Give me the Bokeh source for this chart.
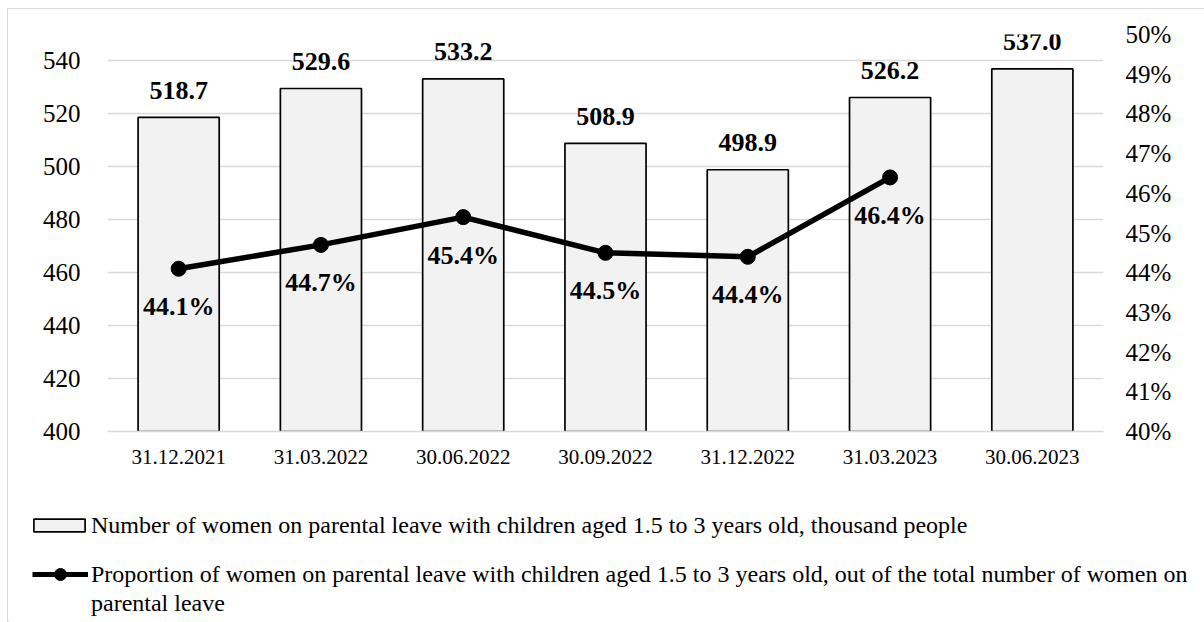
from bokeh.plotting import figure
from bokeh.layouts import column
from bokeh.models import (FactorRange, Range1d, LinearAxis, SingleIntervalTicker,
                          NumeralTickFormatter, Legend, LegendItem, ColumnDataSource)
from bokeh.core.properties import value
from bokeh.embed import file_html
from bokeh.resources import INLINE

# ---------------- data ----------------
dates = ["31.12.2021", "31.03.2022", "30.06.2022", "30.09.2022",
         "31.12.2022", "31.03.2023", "30.06.2023"]
women_thousand = [518.7, 529.6, 533.2, 508.9, 498.9, 526.2, 537.0]
share_dates = ["31.12.2021", "31.03.2022", "30.06.2022", "30.09.2022",
               "31.12.2022", "31.03.2023"]
share_pct = [0.441, 0.447, 0.454, 0.445, 0.444, 0.464]
bar_label = "Number of women on parental leave with children aged 1.5 to 3 years old, thousand people"
line_label_1 = "Proportion of women on parental leave with children aged 1.5 to 3 years old, out of the total number of women on"
line_label_2 = "parental leave"

FONT = "Liberation Serif"

bars = ColumnDataSource(dict(x=dates, top=women_thousand,
                             lbl=[f"{v:.1f}" for v in women_thousand]))
line = ColumnDataSource(dict(x=share_dates, y=share_pct,
                             lbl=[f"{v*100:.1f}%" for v in share_pct]))

p = figure(width=1196, height=471, x_range=FactorRange(factors=dates),
           y_range=Range1d(400, 550), output_backend="svg", toolbar_location=None,
           min_border_left=99, min_border_right=101, min_border_top=25,
           min_border_bottom=49)
p.frame_align = False
p.outline_line_color = None
p.background_fill_color = "white"
p.border_fill_color = "white"

p.extra_y_ranges = {"pct": Range1d(0.40, 0.50)}

# grid
p.xgrid.grid_line_color = None
p.ygrid.grid_line_color = "#d9d9d9"
p.ygrid.grid_line_width = 1.3

# left axis
yl = p.yaxis[0]
yl.ticker = SingleIntervalTicker(interval=20)
yl.axis_line_color = None
yl.major_tick_line_color = None
yl.minor_tick_line_color = None
yl.major_label_text_font = FONT
yl.major_label_text_font_size = "25px"
yl.major_label_text_color = "black"
yl.major_label_standoff = 21

# right axis
yr = LinearAxis(y_range_name="pct", ticker=SingleIntervalTicker(interval=0.01),
                formatter=NumeralTickFormatter(format="0%"))
yr.axis_line_color = None
yr.major_tick_line_color = None
yr.minor_tick_line_color = None
yr.major_label_text_font = FONT
yr.major_label_text_font_size = "25px"
yr.major_label_text_color = "black"
yr.major_label_standoff = 16
p.add_layout(yr, "right")

# x axis
xa = p.xaxis[0]
xa.axis_line_color = "#d9d9d9"
xa.axis_line_width = 1.3
xa.major_tick_line_color = None
xa.minor_tick_line_color = None
xa.major_label_text_font = FONT
xa.major_label_text_font_size = "21px"
xa.major_label_text_color = "black"
xa.major_label_standoff = 12

# bars
vb = p.vbar(x="x", top="top", bottom=400, width=0.57, source=bars,
            fill_color="#f2f2f2", line_color="black", line_width=1.7)
p.text(x="x", y="top", text="lbl", source=bars, text_font=value(FONT),
       text_font_style="bold", text_font_size="26px", text_align="center",
       text_baseline="alphabetic", y_offset=-27, text_color="black")

# line
ln = p.line(x="x", y="y", source=line, y_range_name="pct", line_color="black",
            line_width=5.5)
sc = p.scatter(x="x", y="y", source=line, y_range_name="pct", size=15,
               fill_color="black", line_color="black")
p.text(x="x", y="y", text="lbl", source=line, y_range_name="pct",
       text_font=value(FONT), text_font_style="bold", text_font_size="26px",
       text_align="center", text_baseline="alphabetic", y_offset=38,
       text_color="black")

# ---------------- legend panel ----------------
q = figure(width=1196, height=142, x_range=Range1d(0, 1), y_range=Range1d(0, 1),
           output_backend="svg", toolbar_location=None,
           x_axis_type=None, y_axis_type=None,
           min_border_left=0, min_border_top=0, min_border_right=0,
           min_border_bottom=0)
q.frame_align = False
q.outline_line_color = None
q.xgrid.grid_line_color = None
q.ygrid.grid_line_color = None
# legend proxies (kept outside the visible range)
proxy = ColumnDataSource(dict(x=[-10, -9], y=[-10, -10], top=[-10, -10]))
qb = q.vbar(x="x", top="top", bottom=-20, width=0.5, source=proxy,
            fill_color="#f2f2f2", line_color="black", line_width=1.7)
ql = q.line(x="x", y="y", source=proxy, line_color="black", line_width=5)
qs = q.scatter(x="x", y="y", source=proxy, size=12, fill_color="black",
               line_color="black")
qn = q.line(x="x", y="y", source=proxy, line_alpha=0)


def make_legend(item, loc, gw, gh, standoff):
    lg = Legend(items=[item], location=loc, orientation="vertical")
    lg.label_text_font = FONT
    lg.label_text_font_size = "24px"
    lg.label_text_color = "black"
    lg.label_height = 30
    lg.glyph_width = gw
    lg.glyph_height = gh
    lg.label_standoff = standoff
    lg.padding = 0
    lg.margin = 0
    lg.spacing = 0
    lg.border_line_color = None
    lg.background_fill_alpha = 0
    q.add_layout(lg, "center")
    return lg


make_legend(LegendItem(label=bar_label, renderers=[qb]), (19, 82), 64, 16, 0)
make_legend(LegendItem(label=line_label_1, renderers=[ql, qs]), (24, 33), 56, 30, 3)
make_legend(LegendItem(label=line_label_2, renderers=[qn]), (83, 4), 0, 30, 0)

layout = column(p, q, spacing=0)
layout.margin = (8, 0, 0, 7)
layout.styles = {"border-top": "1px solid #d9d9d9", "border-left": "1px solid #d9d9d9"}

open("out.html", "w").write(file_html(layout, INLINE))
